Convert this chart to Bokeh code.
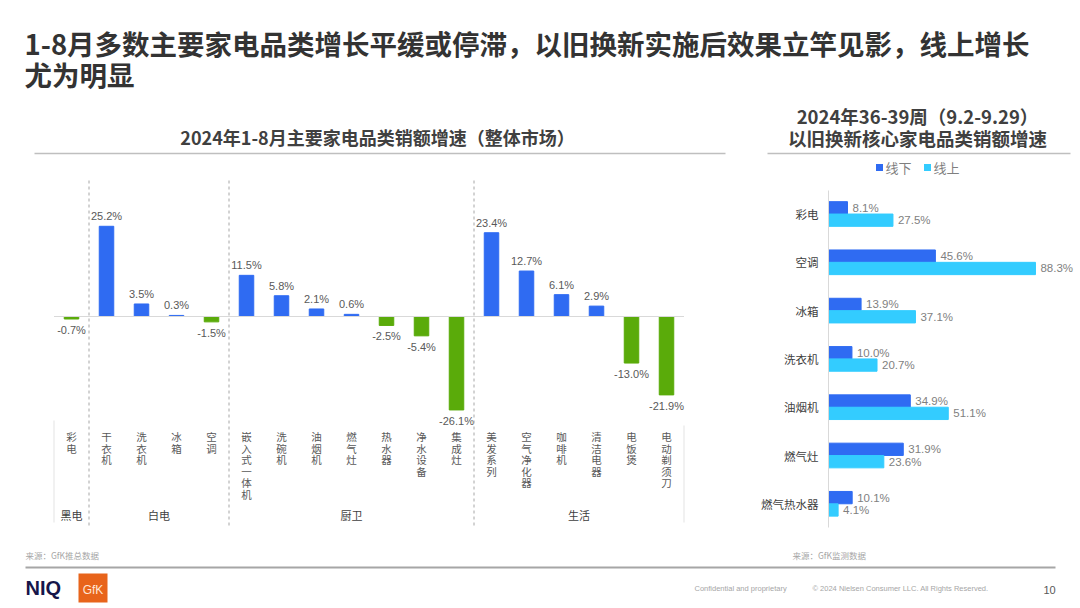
from bokeh.plotting import figure
from bokeh.models import Range1d, ColumnDataSource
from bokeh.core.properties import value
from bokeh.embed import file_html
from bokeh.resources import INLINE

# ---------------- data ----------------
title_line1 = "1-8月多数主要家电品类增长平缓或停滞，以旧换新实施后效果立竿见影，线上增长"
title_line2 = "尤为明显"
left_title = "2024年1-8月主要家电品类销额增速（整体市场）"
right_title1 = "2024年36-39周（9.2-9.29）"
right_title2 = "以旧换新核心家电品类销额增速"

groups = ["黑电", "白电", "厨卫", "生活"]
group_sizes = [1, 4, 7, 6]
categories = ["彩电", "干衣机", "洗衣机", "冰箱", "空调",
              "嵌入式一体机", "洗碗机", "油烟机", "燃气灶", "热水器", "净水设备", "集成灶",
              "美发系列", "空气净化器", "咖啡机", "清洁电器", "电饭煲", "电动剃须刀"]
growth = [-0.7, 25.2, 3.5, 0.3, -1.5,
          11.5, 5.8, 2.1, 0.6, -2.5, -5.4, -26.1,
          23.4, 12.7, 6.1, 2.9, -13.0, -21.9]

tin_categories = ["彩电", "空调", "冰箱", "洗衣机", "油烟机", "燃气灶", "燃气热水器"]
series_names = ["线下", "线上"]
offline = [8.1, 45.6, 13.9, 10.0, 34.9, 31.9, 10.1]
online = [27.5, 88.3, 37.1, 20.7, 51.1, 23.6, 4.1]

source_left = "来源：GfK推总数据"
source_right = "来源：GfK监测数据"

# ---------------- styling / layout ----------------
BLUE = "#2F6BF2"
CYAN = "#33CCFF"
GREEN = "#5AAB0A"
CJK = value("Noto Sans CJK SC")
LAT = value("Liberation Sans")

W, H = 1080, 608
M = 0  # page offset of the canvas

p = figure(width=W, height=H, x_range=Range1d(M, M + W), y_range=Range1d(M + H, M),
           output_backend="svg", toolbar_location=None, min_border=0,
           x_axis_location=None, y_axis_location=None)
p.grid.visible = False
p.outline_line_color = None
p.background_fill_color = "white"
p.border_fill_color = "white"

# left chart scales (page px geometry)
LX0, LSTEP = 71, 35.0      # page x of first bar center, px per category
LY0, LK = 316, 3.58        # page y of zero, px per %
lx_start = -(LX0 - M) / LSTEP
p.extra_x_ranges["lx"] = Range1d(lx_start, lx_start + W / LSTEP)
p.extra_y_ranges["ly"] = Range1d((LY0 - (M + H)) / LK, (LY0 - M) / LK)

# right chart scales
RX0, RK = 828, 2.344
RY0, RSTEP = 213.5, 48.3
rx_start = -(RX0 - M) / RK
p.extra_x_ranges["rx"] = Range1d(rx_start, rx_start + W / RK)
p.extra_y_ranges["ry"] = Range1d((M + H - RY0) / RSTEP, (M - RY0) / RSTEP)

# ---------------- main title ----------------
p.text(x=[24, 24], y=[42, 73], text=[title_line1, title_line2], text_font=CJK,
       text_font_size="27.5px", text_font_style="bold", text_color="#333333",
       text_baseline="middle", text_align="left")

# ---------------- left chart ----------------
n = len(categories)
idx = list(range(n))
p.text(x=[377], y=[136], text=[left_title], text_font=CJK, text_font_size="18px",
       text_font_style="bold", text_color="#404040", text_align="center", text_baseline="middle")
p.segment(x0=[34], x1=[725], y0=[153], y1=[153], line_color="#bfbfbf", line_width=1.5)

colors = [BLUE if v >= 0 else GREEN for v in growth]
src = ColumnDataSource(dict(x=idx, top=growth, color=colors))
p.vbar(x="x", top="top", bottom=0, width=14.5 / LSTEP, fill_color="color", line_color="color",
       source=src, x_range_name="lx", y_range_name="ly")
p.segment(x0=[-0.5], x1=[n - 0.5], y0=[0], y1=[0], line_color="#d9d9d9", line_width=1,
          x_range_name="lx", y_range_name="ly")

pos = [i for i in idx if growth[i] >= 0]
neg = [i for i in idx if growth[i] < 0]
p.text(x=pos, y=[growth[i] for i in pos], text=[f"{growth[i]:.1f}%" for i in pos],
       text_font=LAT, text_font_size="11px", text_color="#595959", text_align="center",
       text_baseline="bottom", y_offset=-4, x_range_name="lx", y_range_name="ly")
p.text(x=neg, y=[growth[i] for i in neg], text=[f"{growth[i]:.1f}%" for i in neg],
       text_font=LAT, text_font_size="11px", text_color="#595959", text_align="center",
       text_baseline="top", y_offset=5, x_range_name="lx", y_range_name="ly")

# vertical category labels: one character per line
CH_Y0, CH_STEP = 436, 11.5
cx, cy, ct = [], [], []
for i, c in enumerate(categories):
    for j, ch in enumerate(c):
        cx.append(i)
        cy.append(CH_Y0 + CH_STEP * j)
        ct.append(ch)
p.text(x=cx, y=cy, text=ct, text_font=CJK, text_font_size="10.5px", text_color="#595959",
       text_align="center", text_baseline="middle", x_range_name="lx")

# group labels & separators
starts = []
s = 0
for g in group_sizes:
    starts.append(s)
    s += g
centers = [st + (g - 1) / 2 for st, g in zip(starts, group_sizes)]
p.text(x=centers, y=[514] * len(groups), text=groups, text_font=CJK, text_font_size="11px",
       text_color="#404040", text_align="center", text_baseline="middle", x_range_name="lx")
bounds = [st - 0.5 for st in starts[1:]]
p.segment(x0=bounds, x1=bounds, y0=[180] * len(bounds), y1=[527] * len(bounds),
          line_color="#a6a6a6", line_width=1, line_dash="3 3", x_range_name="lx")
p.segment(x0=[-0.5, n - 0.5], x1=[-0.5, n - 0.5], y0=[420, 425], y1=[522, 522],
          line_color="#e3e3e3", line_width=1, x_range_name="lx")

# ---------------- right chart ----------------
m = len(tin_categories)
ridx = list(range(m))
p.text(x=[917, 917], y=[115, 137], text=[right_title1, right_title2], text_font=CJK,
       text_font_size="18.5px", text_font_style="bold", text_color="#404040",
       text_align="center", text_baseline="middle")
p.segment(x0=[767], x1=[1070], y0=[153], y1=[153], line_color="#bfbfbf", line_width=1.5)

# legend
p.rect(x=[879, 927], y=[167, 167], width=7, height=7, fill_color=[BLUE, CYAN], line_color=None)
p.text(x=[885, 933], y=[167, 167], text=series_names, text_font=CJK, text_font_size="13px",
       text_color="#7f7f7f", text_align="left", text_baseline="middle")

OFF = 0.128
BH = 12.3 / RSTEP
y_off = [i - OFF for i in ridx]
y_on = [i + OFF for i in ridx]
p.hbar(y=y_off, right=offline, left=0, height=BH, fill_color=BLUE, line_color=BLUE,
       x_range_name="rx", y_range_name="ry")
p.hbar(y=y_on, right=online, left=0, height=BH, fill_color=CYAN, line_color=CYAN,
       x_range_name="rx", y_range_name="ry")
p.text(x=offline, y=y_off, text=[f"{v:.1f}%" for v in offline], text_font=LAT,
       text_font_size="11.5px", text_color="#7f7f7f", text_align="left", text_baseline="middle",
       x_offset=5, x_range_name="rx", y_range_name="ry")
p.text(x=online, y=y_on, text=[f"{v:.1f}%" for v in online], text_font=LAT,
       text_font_size="11.5px", text_color="#7f7f7f", text_align="left", text_baseline="middle",
       x_offset=5, x_range_name="rx", y_range_name="ry")
p.text(x=[818] * m, y=ridx, text=tin_categories, text_font=CJK, text_font_size="11.5px",
       text_color="#404040", text_align="right", text_baseline="middle", y_range_name="ry")
p.segment(x0=[0], x1=[0], y0=[190], y1=[527], line_color="#d9d9d9", line_width=1,
          x_range_name="rx")

# ---------------- footer ----------------
p.text(x=[25, 792], y=[554, 554], text=[source_left, source_right], text_font=CJK,
       text_font_size="8.5px", text_color="#a6a6a6", text_align="left", text_baseline="middle")
p.segment(x0=[25], x1=[1055], y0=[567], y1=[567], line_color="#a6a6a6", line_width=2)
p.text(x=[25], y=[587], text=["NIQ"], text_font=LAT, text_font_size="20px",
       text_font_style="bold", text_color="#16164a", text_align="left", text_baseline="middle")
p.quad(left=[78], right=[107], top=[573], bottom=[602], fill_color="#E8641B", line_color=None)
p.text(x=[92.5], y=[589], text=["GfK"], text_font=LAT, text_font_size="12px",
       text_color="#ffe6d6", text_align="center", text_baseline="middle")
p.text(x=[694, 812], y=[588, 588],
       text=["Confidential and proprietary", "© 2024 Nielsen Consumer LLC. All Rights Reserved."],
       text_font=LAT, text_font_size="7.5px", text_color="#a6a6a6", text_align="left",
       text_baseline="middle")
p.text(x=[1043], y=[589], text=["10"], text_font=LAT, text_font_size="11px",
       text_color="#595959", text_align="left", text_baseline="middle")

open("out.html", "w").write(file_html(p, INLINE))
